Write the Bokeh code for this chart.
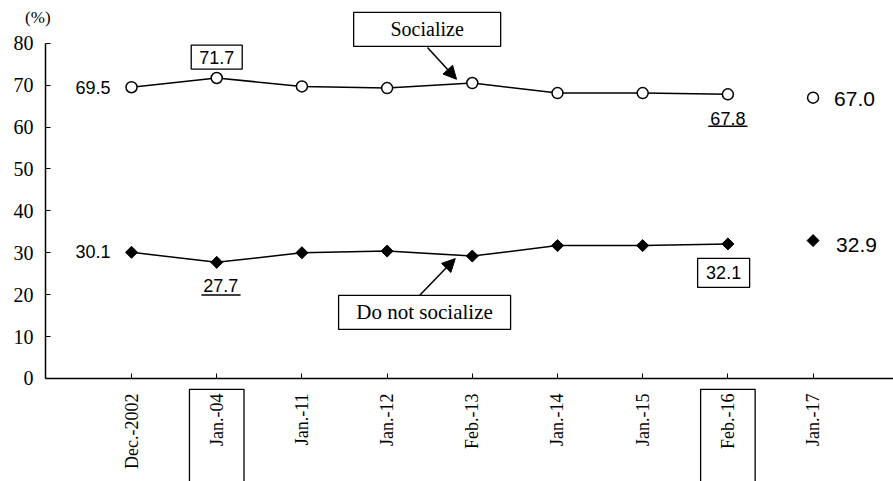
from bokeh.plotting import figure
from bokeh.models import Range1d, FixedTicker, Label, Arrow, NormalHead
from bokeh.embed import file_html
from bokeh.resources import INLINE
import numpy as np

# ---- data ----
periods = ["Dec.-2002", "Jan.-04", "Jan.-11", "Jan.-12", "Feb.-13",
           "Jan.-14", "Jan.-15", "Feb.-16", "Jan.-17"]
socialize = [69.5, 71.7, 69.7, 69.3, 70.5, 68.1, 68.1, 67.8]
not_socialize = [30.1, 27.7, 30.0, 30.4, 29.2, 31.7, 31.7, 32.1]
latest_period = "Jan.-17"
latest_socialize = 67.0
latest_not_socialize = 32.9
y_ticks = [0, 10, 20, 30, 40, 50, 60, 70, 80]
boxed_periods = ["Jan.-04", "Feb.-16"]

SERIF = "Liberation Serif"
SANS = "Liberation Sans"

xs = list(range(len(socialize)))
x_latest = periods.index(latest_period)

p = figure(width=893, height=481, output_backend="svg", toolbar_location=None,
           x_range=Range1d(-1.538, 8.944), y_range=Range1d(-24.6, 90.2),
           min_border=0, min_border_left=0, min_border_right=0,
           min_border_top=0, min_border_bottom=0)
p.outline_line_color = None
p.xgrid.visible = False
p.ygrid.visible = False
p.background_fill_color = "white"
p.border_fill_color = "white"

# axes
xa = p.xaxis[0]
xa.fixed_location = 0
xa.bounds = (-1.01, 8.944)
xa.ticker = FixedTicker(ticks=list(range(len(periods))))
xa.major_label_overrides = {i: lab for i, lab in enumerate(periods)}
xa.major_label_orientation = np.pi / 2
xa.major_label_text_font = SERIF
xa.major_label_text_font_size = "18px"
xa.major_label_text_color = "black"
xa.major_label_standoff = 15
xa.major_tick_in = 5
xa.major_tick_out = 0
xa.minor_tick_line_color = None
xa.axis_line_color = "black"
xa.axis_line_width = 1.5
xa.major_tick_line_color = "black"

ya = p.yaxis[0]
ya.fixed_location = -1.01
ya.bounds = (0, 80)
ya.ticker = FixedTicker(ticks=y_ticks)
ya.major_label_text_font = SERIF
ya.major_label_text_font_size = "20px"
ya.major_label_text_color = "black"
ya.major_label_standoff = 12
ya.major_tick_in = 5
ya.major_tick_out = 0
ya.minor_tick_line_color = None
ya.axis_line_color = "black"
ya.axis_line_width = 1.5
ya.major_tick_line_color = "black"

# boxes around highlighted tick labels
for per in boxed_periods:
    i = periods.index(per)
    p.quad(left=i - 0.32, right=i + 0.32, top=-2.6, bottom=-40,
           fill_color=None, line_color="black", line_width=1.3)

# series
p.line(xs, socialize, line_color="black", line_width=1.5)
p.scatter(xs, socialize, marker="circle", size=11, fill_color="white",
          line_color="black", line_width=1.5)
p.line(xs, not_socialize, line_color="black", line_width=1.5)
p.scatter(xs, not_socialize, marker="square", angle=np.pi / 4, size=8.5,
          fill_color="black", line_color="black")
p.scatter([x_latest], [latest_socialize], marker="circle", size=11,
          fill_color="white", line_color="black", line_width=1.5)
p.scatter([x_latest], [latest_not_socialize], marker="square", angle=np.pi / 4,
          size=8.5, fill_color="black", line_color="black")


def num_label(x, y, text, size="18px", align="center", x_off=0, y_off=0):
    p.add_layout(Label(x=x, y=y, text=text, text_font=SANS, text_font_size=size,
                       text_align=align, text_baseline="middle", text_color="black",
                       x_offset=x_off, y_offset=y_off))


# data labels
num_label(0, socialize[0], f"{socialize[0]:.1f}", align="right", x_off=-21)
num_label(0, not_socialize[0], f"{not_socialize[0]:.1f}", align="right", x_off=-21, y_off=1)

# 71.7 boxed
p.rect(x=[1], y=[socialize[1] + 5.0], width=51, height=24, width_units="screen",
       height_units="screen", fill_color="white", line_color="black", line_width=1.3)
num_label(1, socialize[1] + 5.0, f"{socialize[1]:.1f}")

# 67.8 underlined
num_label(7, socialize[7] - 5.7, f"{socialize[7]:.1f}")
p.segment(x0=[7 - 0.23], x1=[7 + 0.23], y0=[socialize[7] - 7.6], y1=[socialize[7] - 7.6],
          line_color="black", line_width=1.5)

# 27.7 underlined
num_label(1, not_socialize[1] - 5.5, f"{not_socialize[1]:.1f}", x_off=4)
p.segment(x0=[1.05 - 0.23], x1=[1.05 + 0.23], y0=[not_socialize[1] - 7.8],
          y1=[not_socialize[1] - 7.8], line_color="black", line_width=1.5)

# 32.1 boxed
p.rect(x=[6.95], y=[not_socialize[7] - 6.9], width=52, height=29, width_units="screen",
       height_units="screen", fill_color="white", line_color="black", line_width=1.3)
num_label(6.95, not_socialize[7] - 6.9, f"{not_socialize[7]:.1f}")

# latest values
num_label(x_latest, latest_socialize, f"{latest_socialize:.1f}", size="21px",
          align="left", x_off=21, y_off=-1)
num_label(x_latest, latest_not_socialize, f"{latest_not_socialize:.1f}", size="21px",
          align="left", x_off=23, y_off=-4)

# series name callouts
p.rect(x=[3.47], y=[83.3], width=147, height=34, width_units="screen",
       height_units="screen", fill_color="white", line_color="black", line_width=1.3)
p.add_layout(Label(x=3.47, y=83.3, text="Socialize", text_font=SERIF,
                   text_font_size="20px", text_align="center", text_baseline="middle",
                   text_color="black"))
p.add_layout(Arrow(x_start=3.474, y_start=79.0, x_end=3.815, y_end=71.4,
                   line_color="black", line_width=1.5,
                   end=NormalHead(size=13, fill_color="black", line_color="black")))

p.rect(x=[3.44], y=[15.75], width=172, height=34, width_units="screen",
       height_units="screen", fill_color="white", line_color="black", line_width=1.3)
p.add_layout(Label(x=3.44, y=15.75, text="Do not socialize", text_font=SERIF,
                   text_font_size="21px", text_align="center", text_baseline="middle",
                   text_color="black"))
p.add_layout(Arrow(x_start=3.38, y_start=19.8, x_end=3.80, y_end=28.6,
                   line_color="black", line_width=1.5,
                   end=NormalHead(size=13, fill_color="black", line_color="black")))

# unit label
p.add_layout(Label(x=-1.10, y=86.2, text="(%)", text_font=SERIF, text_font_size="17px",
                   text_align="center", text_baseline="middle", text_color="black"))

open("out.html", "w").write(file_html(p, INLINE))
